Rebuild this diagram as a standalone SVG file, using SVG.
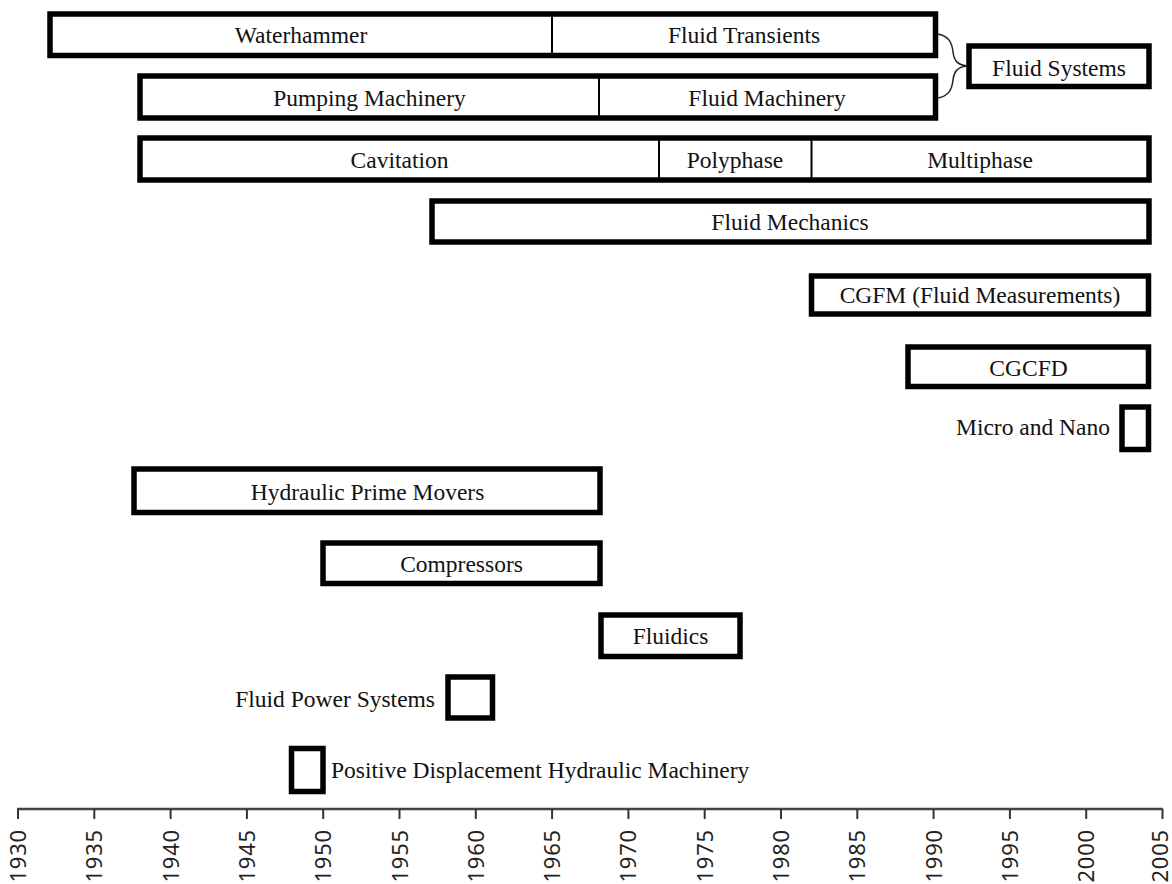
<svg xmlns="http://www.w3.org/2000/svg" width="1172" height="884" viewBox="0 0 1172 884">
<style>
.box{fill:#fff;stroke:#000;stroke-width:5.5}
.div{stroke:#000;stroke-width:2}
.t{font-family:"Liberation Serif","Times New Roman",serif;font-size:23.5px;fill:#111;text-anchor:middle}
.ts{font-family:"Liberation Serif","Times New Roman",serif;font-size:23.5px;fill:#111}
.ax{font-family:"Noto Sans","DejaVu Sans",sans-serif;font-size:22px;fill:#222;text-anchor:end;letter-spacing:0.8px}
.tick{stroke:#333;stroke-width:2}
</style>
<rect width="1172" height="884" fill="#fff"/>
<g id="waterhammer-transients">
<rect class="box" x="50" y="14" width="885.5" height="41.5"/>
<line class="div" x1="552" y1="14" x2="552" y2="55.5"/>
<text class="t" x="301" y="43">Waterhammer</text>
<text class="t" x="744" y="43">Fluid Transients</text>
</g>
<g id="pumping-machinery">
<rect class="box" x="140" y="76" width="795.5" height="42"/>
<line class="div" x1="599" y1="76" x2="599" y2="118"/>
<text class="t" x="369.5" y="106">Pumping Machinery</text>
<text class="t" x="767" y="106">Fluid Machinery</text>
</g>
<g id="fluid-systems">
<rect class="box" x="969" y="46" width="180" height="40.5"/>
<text class="t" x="1059" y="75.5">Fluid Systems</text>
</g>
<g id="cavitation">
<rect class="box" x="140" y="138" width="1009" height="42"/>
<line class="div" x1="659" y1="138" x2="659" y2="180"/>
<line class="div" x1="811.5" y1="138" x2="811.5" y2="180"/>
<text class="t" x="399.5" y="168">Cavitation</text>
<text class="t" x="735" y="168">Polyphase</text>
<text class="t" x="980" y="168">Multiphase</text>
</g>
<g id="fluid-mechanics">
<rect class="box" x="432" y="201" width="717" height="41"/>
<text class="t" x="790" y="230">Fluid Mechanics</text>
</g>
<g id="cgfm">
<rect class="box" x="811.5" y="276" width="337" height="38"/>
<text class="t" x="980" y="303">CGFM (Fluid Measurements)</text>
</g>
<g id="cgcfd">
<rect class="box" x="908" y="347" width="240.5" height="39.5"/>
<text class="t" x="1028.5" y="375.5">CGCFD</text>
</g>
<g id="micro-nano">
<rect class="box" x="1122" y="407" width="26.5" height="42.5"/>
<text class="ts" x="1110" y="435" text-anchor="end">Micro and Nano</text>
</g>
<g id="hydraulic-prime-movers">
<rect class="box" x="134" y="469" width="466" height="43.5"/>
<text class="t" x="367.5" y="499.5">Hydraulic Prime Movers</text>
</g>
<g id="compressors">
<rect class="box" x="323" y="543" width="277" height="40.5"/>
<text class="t" x="461.5" y="572">Compressors</text>
</g>
<g id="fluidics">
<rect class="box" x="601" y="615" width="139" height="41.5"/>
<text class="t" x="670.5" y="644">Fluidics</text>
</g>
<g id="fluid-power-systems">
<rect class="box" x="448" y="677" width="44.5" height="41"/>
<text class="ts" x="435" y="707" text-anchor="end">Fluid Power Systems</text>
</g>
<g id="positive-displacement">
<rect class="box" x="291.5" y="748.5" width="31.5" height="43"/>
<text class="ts" x="331" y="778">Positive Displacement Hydraulic Machinery</text>
</g>
<g id="connectors">
<path d="M938,34 C949,36 952,43 953,52 C954,60 957,65 967,66 C957,67 954,72 953,80 C952,89 949,96 938,98" fill="none" stroke="#222" stroke-width="1.5"/>
</g>
<g id="axis">
<line x1="17" y1="809" x2="1163" y2="809" stroke="#444" stroke-width="2.5"/>
<g class="tick">
<line x1="18" y1="809" x2="18" y2="819"/>
<line x1="94.3" y1="809" x2="94.3" y2="819"/>
<line x1="170.6" y1="809" x2="170.6" y2="819"/>
<line x1="246.9" y1="809" x2="246.9" y2="819"/>
<line x1="323.2" y1="809" x2="323.2" y2="819"/>
<line x1="399.5" y1="809" x2="399.5" y2="819"/>
<line x1="475.8" y1="809" x2="475.8" y2="819"/>
<line x1="552.1" y1="809" x2="552.1" y2="819"/>
<line x1="628.4" y1="809" x2="628.4" y2="819"/>
<line x1="704.7" y1="809" x2="704.7" y2="819"/>
<line x1="781" y1="809" x2="781" y2="819"/>
<line x1="857.3" y1="809" x2="857.3" y2="819"/>
<line x1="933.6" y1="809" x2="933.6" y2="819"/>
<line x1="1009.9" y1="809" x2="1009.9" y2="819"/>
<line x1="1086.2" y1="809" x2="1086.2" y2="819"/>
<line x1="1162.5" y1="809" x2="1162.5" y2="819"/>
</g>
<text class="ax" transform="translate(26,829) rotate(-90)">1930</text>
<text class="ax" transform="translate(102.3,829) rotate(-90)">1935</text>
<text class="ax" transform="translate(178.6,829) rotate(-90)">1940</text>
<text class="ax" transform="translate(254.9,829) rotate(-90)">1945</text>
<text class="ax" transform="translate(331.2,829) rotate(-90)">1950</text>
<text class="ax" transform="translate(407.5,829) rotate(-90)">1955</text>
<text class="ax" transform="translate(483.8,829) rotate(-90)">1960</text>
<text class="ax" transform="translate(560.1,829) rotate(-90)">1965</text>
<text class="ax" transform="translate(636.4,829) rotate(-90)">1970</text>
<text class="ax" transform="translate(712.7,829) rotate(-90)">1975</text>
<text class="ax" transform="translate(789,829) rotate(-90)">1980</text>
<text class="ax" transform="translate(865.3,829) rotate(-90)">1985</text>
<text class="ax" transform="translate(941.6,829) rotate(-90)">1990</text>
<text class="ax" transform="translate(1017.9,829) rotate(-90)">1995</text>
<text class="ax" transform="translate(1094.2,829) rotate(-90)">2000</text>
<text class="ax" transform="translate(1168,829) rotate(-90)">2005</text>
</g>
</svg>
